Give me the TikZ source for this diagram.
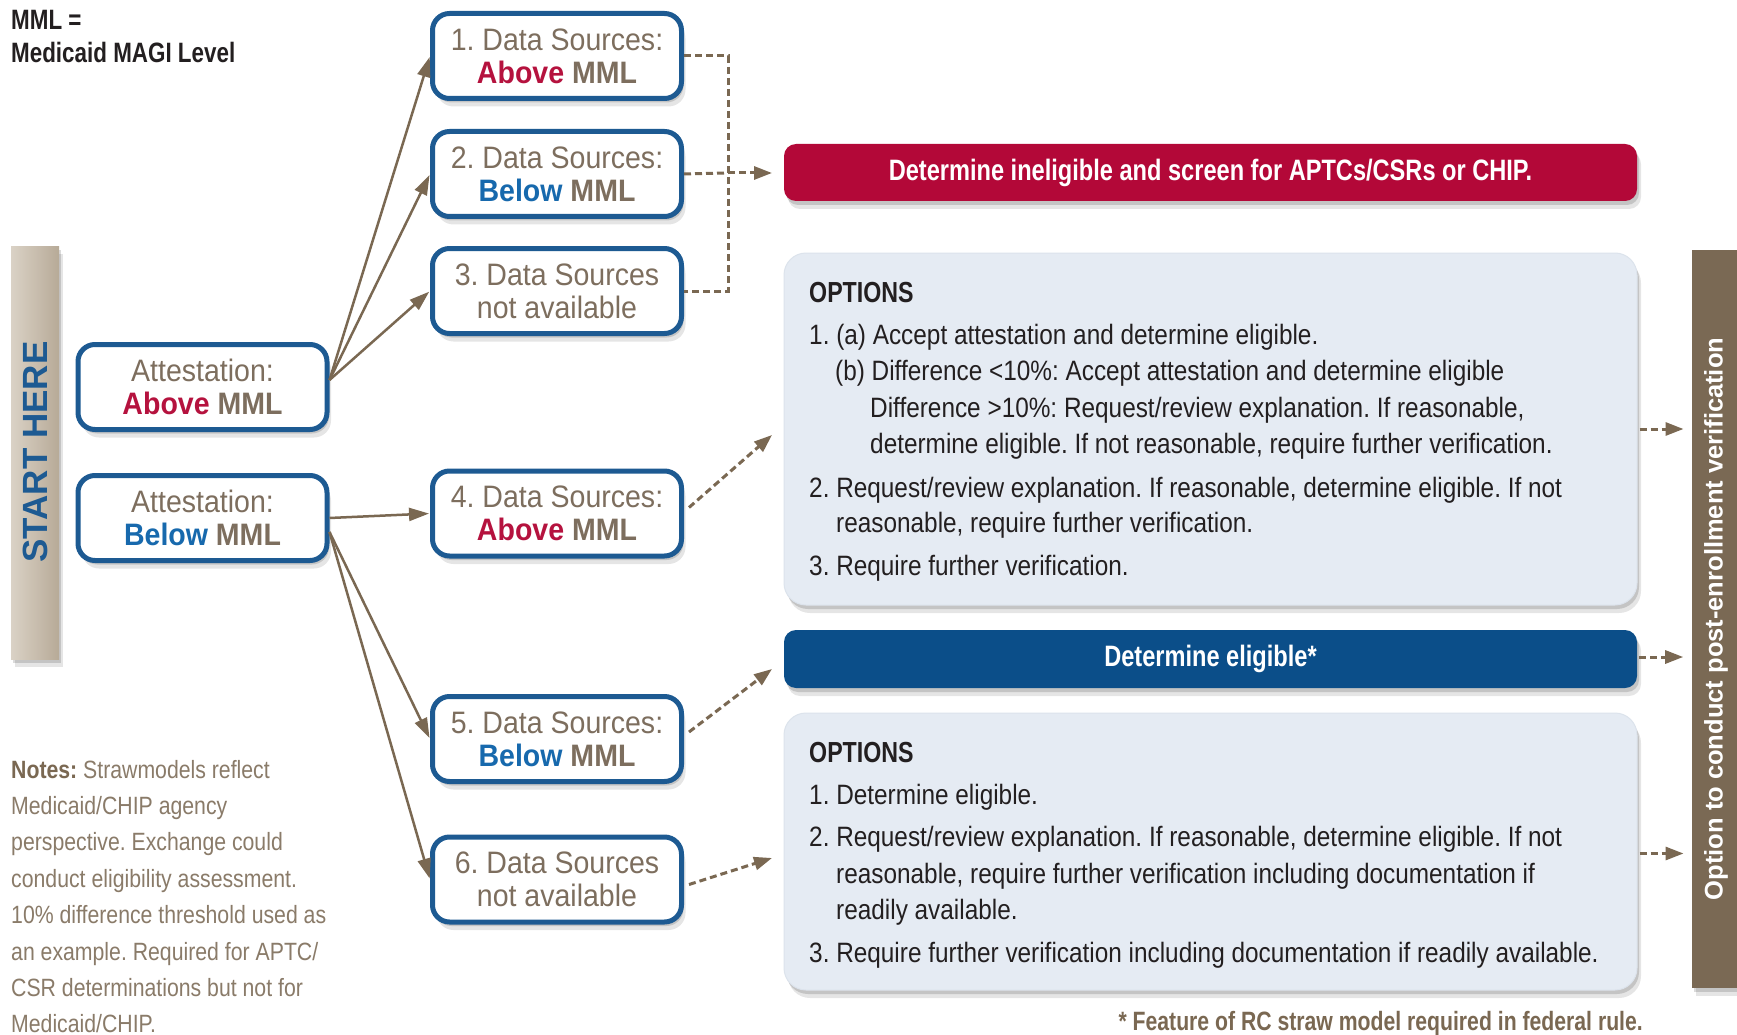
\documentclass[tikz,border=0pt]{standalone}
\usepackage{fontspec}
\setmainfont{Liberation Sans}
\newfontfamily\boxfont[FakeStretch=0.92]{Liberation Sans}
\newfontfamily\condfont[FakeStretch=0.87]{Liberation Sans}
\newfontfamily\cbfont[FakeStretch=0.8]{Liberation Sans}
\newfontfamily\notefont[FakeStretch=0.85]{Liberation Sans}
\usetikzlibrary{arrows.meta,shadows}
\frenchspacing
\definecolor{boxblue}{HTML}{1D5A92}
\definecolor{redword}{HTML}{B5123E}
\definecolor{blueword}{HTML}{1769AD}
\definecolor{txtbrown}{HTML}{7D6E5E}
\definecolor{arrowbrown}{HTML}{7A6852}
\definecolor{redbar}{HTML}{B30838}
\definecolor{bluebar}{HTML}{0B4E89}
\definecolor{optfill}{HTML}{E5EBF3}
\definecolor{optedge}{HTML}{DCE3EC}
\definecolor{opttxt}{HTML}{231F20}
\definecolor{startlight}{HTML}{DAD2C6}
\definecolor{startdark}{HTML}{B7AA97}
\definecolor{rightbrown}{HTML}{7A6954}
\definecolor{notebrown}{HTML}{8A7B69}
\begin{document}
\begin{tikzpicture}[x=1pt,y=-1pt,
  softshadow/.style={drop shadow={shadow xshift=2pt,shadow yshift=-4pt,opacity=0.14,fill=black},
                     drop shadow={shadow xshift=4pt,shadow yshift=-8pt,opacity=0.10,fill=black}},
  dsbox/.style={draw=boxblue,line width=5pt,fill=white,rounded corners=17pt,
    minimum width=249pt,minimum height=85pt,inner sep=0pt,align=center,text=txtbrown,
    font=\boxfont\fontsize{31}{33}\selectfont,softshadow},
  optbox/.style={fill=optfill,draw=optedge,line width=1pt,rounded corners=22pt,
    minimum width=853pt,inner sep=0pt,softshadow},
  barbox/.style={rounded corners=12pt,minimum width=853pt,minimum height=57pt,inner sep=0pt,
    text=white,font=\cbfont\bfseries\fontsize{29.5}{32}\selectfont,softshadow},
  opttext/.style={anchor=base west,inner sep=0pt,text=opttxt,font=\condfont\fontsize{28}{30}\selectfont},
  opthead/.style={anchor=base west,inner sep=0pt,text=opttxt,font=\cbfont\bfseries\fontsize{29}{31}\selectfont},
  notetext/.style={anchor=base west,inner sep=0pt,text=notebrown,font=\notefont\fontsize{25}{27}\selectfont},
  solidarrow/.style={draw=arrowbrown,line width=2.5pt,-{Triangle[length=20pt,width=13pt]},shorten >=1pt},
  dasharrow/.style={draw=arrowbrown,line width=3pt,dash pattern=on 7pt off 4pt,-{Triangle[length=18pt,width=13pt]}},
  dashline/.style={draw=arrowbrown,line width=3pt,dash pattern=on 7pt off 4pt}
]
\fill[white] (0,0) rectangle (1737,1035);
\useasboundingbox (0,0) rectangle (1737,1035);

% legend
\node[anchor=base west,inner sep=0pt,text=opttxt,font=\cbfont\bfseries\fontsize{28}{30}\selectfont] (mml1) at (11,30) {MML =};
\node[anchor=base west,inner sep=0pt,text=opttxt,font=\cbfont\bfseries\fontsize{28}{30}\selectfont] (mml2) at (11,63) {Medicaid MAGI Level};

% start bar
\node[left color=startlight,right color=startdark,minimum width=48pt,minimum height=413pt,inner sep=0pt,softshadow] (start) at (35,452.5) {};
\node[rotate=90,inner sep=0pt,text=boxblue,font=\bfseries\fontsize{35}{37}\selectfont] (starttxt) at (35,452) {START HERE};

% right bar
\node[fill=rightbrown,minimum width=45pt,minimum height=738pt,inner sep=0pt,softshadow] (post) at (1714.5,619) {};
\node[rotate=90,inner sep=0pt,text=white,font=\bfseries\fontsize{25.5}{27}\selectfont] (posttxt) at (1716,619) {Option to conduct post-enrollment verification};

% attestation boxes
\node[dsbox] (att1) at (202.5,387) {Attestation:\\\textbf{\textcolor{redword}{Above} MML}};
\node[dsbox] (att2) at (202.5,518) {Attestation:\\\textbf{\textcolor{blueword}{Below} MML}};

% data source boxes
\node[dsbox] (b1) at (557,56) {1. Data Sources:\\\textbf{\textcolor{redword}{Above} MML}};
\node[dsbox] (b2) at (557,174) {2. Data Sources:\\\textbf{\textcolor{blueword}{Below} MML}};
\node[dsbox] (b3) at (557,291) {3. Data Sources\\not available};
\node[dsbox] (b4) at (557,513.5) {4. Data Sources:\\\textbf{\textcolor{redword}{Above} MML}};
\node[dsbox] (b5) at (557,739) {5. Data Sources:\\\textbf{\textcolor{blueword}{Below} MML}};
\node[dsbox] (b6) at (557,879.5) {6. Data Sources\\not available};

% result bars and option boxes
\node[barbox,fill=redbar] (red) at (1210.5,172.5) {Determine ineligible and screen for APTCs/CSRs or CHIP.};
\node[optbox,minimum height=352pt] (opt1) at (1210.5,429) {};
\node[barbox,fill=bluebar,minimum height=58pt] (blue) at (1210.5,659) {Determine eligible*};
\node[optbox,minimum height=277pt] (opt2) at (1210.5,851.5) {};

% options 1 text
\node[opthead] (o1h) at (809,302) {OPTIONS};
\node[opttext] (o1l1) at (809,344) {1. (a) Accept attestation and determine eligible.};
\node[opttext] (o1l2) at (835,380) {(b) Difference <10\%: Accept attestation and determine eligible};
\node[opttext] (o1l3) at (870,417) {Difference >10\%: Request/review explanation. If reasonable,};
\node[opttext] (o1l4) at (870,453) {determine eligible. If not reasonable, require further verification.};
\node[opttext] (o1l5) at (809,497) {2. Request/review explanation. If reasonable, determine eligible. If not};
\node[opttext] (o1l6) at (836,532) {reasonable, require further verification.};
\node[opttext] (o1l7) at (809,575) {3. Require further verification.};

% options 2 text
\node[opthead] (o2h) at (809,762) {OPTIONS};
\node[opttext] (o2l1) at (809,804) {1. Determine eligible.};
\node[opttext] (o2l2) at (809,846) {2. Request/review explanation. If reasonable, determine eligible. If not};
\node[opttext] (o2l3) at (836,883) {reasonable, require further verification including documentation if};
\node[opttext] (o2l4) at (836,919) {readily available.};
\node[opttext] (o2l5) at (809,962) {3. Require further verification including documentation if readily available.};

% notes
\node[notetext] (n1) at (11,778) {\textbf{\textcolor{arrowbrown}{Notes:}} Strawmodels reflect};
\node[notetext] (n2) at (11,814.4) {Medicaid/CHIP agency};
\node[notetext] (n3) at (11,850.8) {perspective. Exchange could};
\node[notetext] (n4) at (11,887.2) {conduct eligibility assessment.};
\node[notetext] (n5) at (11,923.6) {10\% difference threshold used as};
\node[notetext] (n6) at (11,960) {an example. Required for APTC/};
\node[notetext] (n7) at (11,996.4) {CSR determinations but not for};
\node[notetext] (n8) at (11,1032.8) {Medicaid/CHIP.};

% footnote
\node[anchor=base east,inner sep=0pt,text=arrowbrown,font=\cbfont\bfseries\fontsize{26.5}{28}\selectfont] (foot) at (1643,1030) {* Feature of RC straw model required in federal rule.};

% solid arrows
\draw[solidarrow] ([yshift=7pt]att1.east) -- (b1.west);
\draw[solidarrow] ([yshift=7pt]att1.east) -- (b2.west);
\draw[solidarrow] ([yshift=7pt]att1.east) -- (b3.west);
\draw[solidarrow] (att2.east) -- (b4.west);
\draw[solidarrow] ([yshift=-14pt]att2.east) -- (b5.west);
\draw[solidarrow] ([yshift=-14pt]att2.east) -- (b6.west);

% dashed connectors to red bar
\coordinate (j1) at (728,56);
\coordinate (j2) at (728,173);
\coordinate (j3) at (728,291);
\coordinate (rtip) at (772,173);
\draw[dashline] (b1.east) -- (j1) -- (j3) -- (b3.east);
\draw[dashline] (b2.east) -- (j2);
\draw[dasharrow] (j2) -- (rtip);

% dashed arrows from boxes 4-6
\coordinate (t4) at (772,435);
\coordinate (t5) at (772,669);
\coordinate (t6) at (772,858);
\draw[dasharrow] ([xshift=5pt,yshift=6pt]b4.east) -- (t4);
\draw[dasharrow] ([xshift=5pt,yshift=7pt]b5.east) -- (t5);
\draw[dasharrow] ([xshift=5pt,yshift=-5pt]b6.east) -- (t6);

% dashed arrows to post-enrollment bar
\draw[dasharrow] ([xshift=2pt]opt1.east) -- ++(44,0);
\draw[dasharrow] ([xshift=2pt,yshift=2pt]blue.east) -- ++(44,0);
\draw[dasharrow] ([xshift=2pt,yshift=-2pt]opt2.east) -- ++(44,0);
\end{tikzpicture}
\end{document}
